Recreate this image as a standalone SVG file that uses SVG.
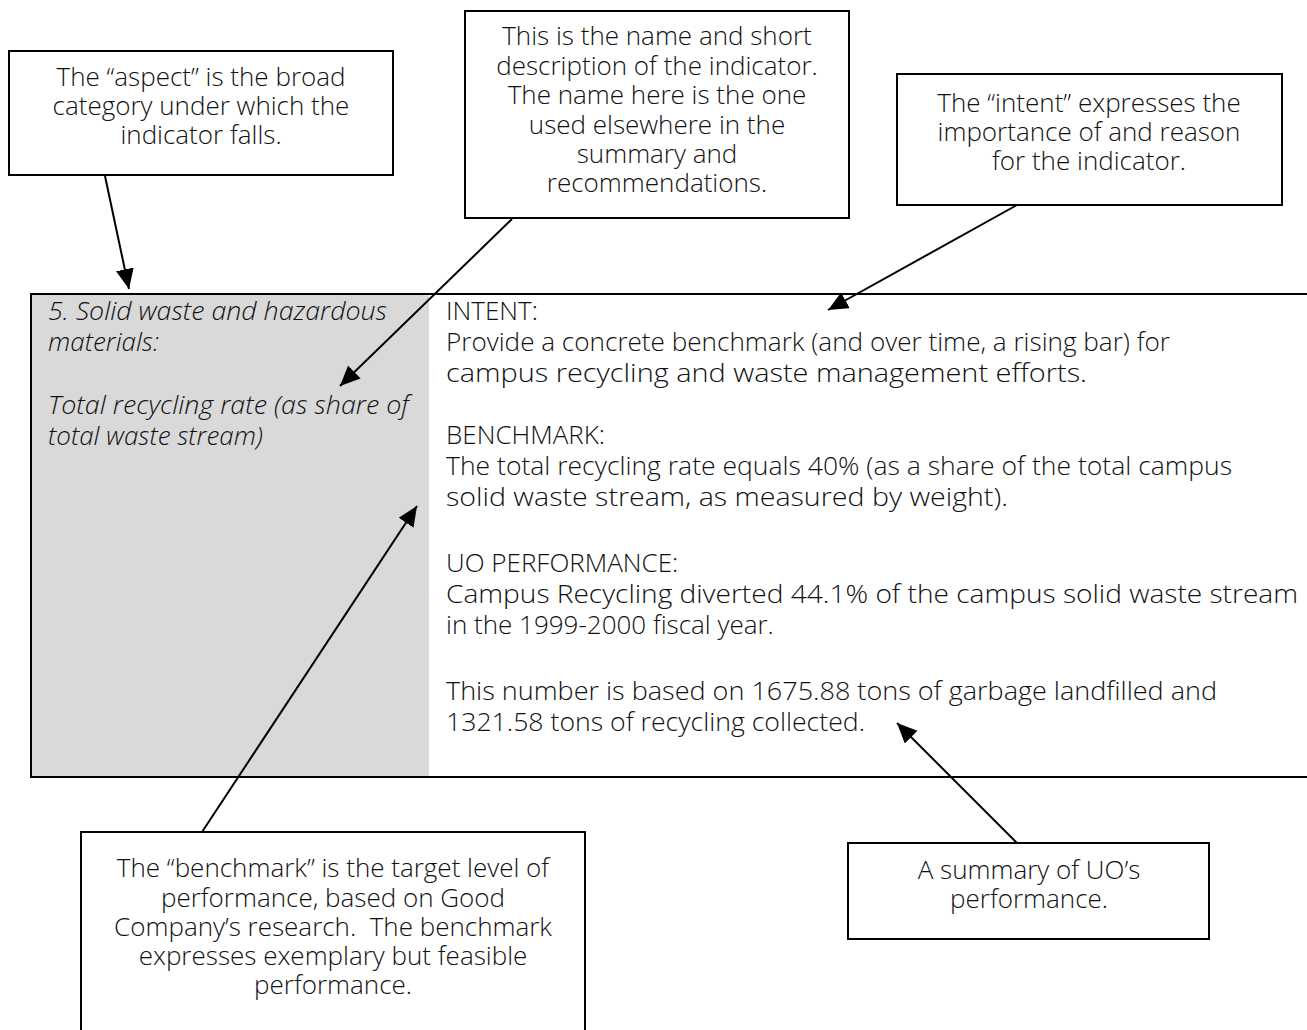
<svg xmlns="http://www.w3.org/2000/svg" width="1307" height="1030" viewBox="0 0 1307 1030">
<style>
.box{fill:#fff;stroke:#000;stroke-width:2}
.t{font-family:"Open Sans","Liberation Sans",sans-serif;font-size:26px;fill:#111;font-weight:300}
.c{text-anchor:middle}
.i{font-style:italic}
.ln{stroke:#000;stroke-width:2;fill:none;marker-end:url(#ah)}
</style>
<defs>
<marker id="ah" markerUnits="userSpaceOnUse" markerWidth="22" markerHeight="20" refX="20" refY="9" orient="auto">
<path d="M0,0 L20,9 L0,18 Z" fill="#000"/>
</marker>
</defs>
<rect width="1307" height="1030" fill="#fff"/>
<g id="table">
<rect x="31" y="294" width="398" height="483" fill="#d9d9d9"/>
<path d="M1307,294 H31 V777 H1307" fill="none" stroke="#000" stroke-width="2"/>
<text class="t i" x="48" y="320" textLength="339" lengthAdjust="spacingAndGlyphs">5. Solid waste and hazardous</text>
<text class="t i" x="48" y="351">materials:</text>
<text class="t i" x="48" y="414" textLength="361" lengthAdjust="spacingAndGlyphs">Total recycling rate (as share of</text>
<text class="t i" x="48" y="445">total waste stream)</text>
<text class="t" x="446" y="320">INTENT:</text>
<text class="t" x="446" y="351" textLength="724" lengthAdjust="spacingAndGlyphs">Provide a concrete benchmark (and over time, a rising bar) for</text>
<text class="t" x="446" y="382" textLength="641" lengthAdjust="spacingAndGlyphs">campus recycling and waste management efforts.</text>
<text class="t" x="446" y="444">BENCHMARK:</text>
<text class="t" x="446" y="475" textLength="786" lengthAdjust="spacingAndGlyphs">The total recycling rate equals 40% (as a share of the total campus</text>
<text class="t" x="446" y="506" textLength="562" lengthAdjust="spacingAndGlyphs">solid waste stream, as measured by weight).</text>
<text class="t" x="446" y="572">UO PERFORMANCE:</text>
<text class="t" x="446" y="603" textLength="852" lengthAdjust="spacingAndGlyphs">Campus Recycling diverted 44.1% of the campus solid waste stream</text>
<text class="t" x="446" y="634">in the 1999-2000 fiscal year.</text>
<text class="t" x="446" y="700" textLength="771" lengthAdjust="spacingAndGlyphs">This number is based on 1675.88 tons of garbage landfilled and</text>
<text class="t" x="446" y="731" textLength="419" lengthAdjust="spacingAndGlyphs">1321.58 tons of recycling collected.</text>
</g>
<g id="connectors">
<line class="ln" x1="105" y1="176" x2="129" y2="289"/>
<line class="ln" x1="512" y1="219" x2="340" y2="386"/>
<line class="ln" x1="1017" y1="205" x2="828" y2="310"/>
<line class="ln" x1="202" y1="832" x2="417" y2="506"/>
<line class="ln" x1="1017" y1="843" x2="897" y2="723"/>
</g>
<g id="aspect">
<rect class="box" x="9" y="51" width="384" height="124"/>
<text class="t c"><tspan x="201" y="86">The “aspect” is the broad</tspan><tspan x="201" y="115">category under which the</tspan><tspan x="201" y="144">indicator falls.</tspan></text>
</g>
<g id="name">
<rect class="box" x="465" y="11" width="384" height="207"/>
<text class="t c"><tspan x="657" y="45">This is the name and short</tspan><tspan x="657" y="75">description of the indicator.</tspan><tspan x="657" y="104">The name here is the one</tspan><tspan x="657" y="134">used elsewhere in the</tspan><tspan x="657" y="163">summary and</tspan><tspan x="657" y="192">recommendations.</tspan></text>
</g>
<g id="intent">
<rect class="box" x="897" y="74" width="385" height="131"/>
<text class="t c"><tspan x="1089" y="112">The “intent” expresses the</tspan><tspan x="1089" y="141">importance of and reason</tspan><tspan x="1089" y="170">for the indicator.</tspan></text>
</g>
<g id="benchmark">
<rect class="box" x="81" y="832" width="504" height="210"/>
<text class="t c"><tspan x="333" y="877">The “benchmark” is the target level of</tspan><tspan x="333" y="907">performance, based on Good</tspan><tspan x="333" y="936">Company’s research.&#160; The benchmark</tspan><tspan x="333" y="965">expresses exemplary but feasible</tspan><tspan x="333" y="994">performance.</tspan></text>
</g>
<g id="summary">
<rect class="box" x="848" y="843" width="361" height="96"/>
<text class="t c"><tspan x="1029" y="879">A summary of UO’s</tspan><tspan x="1029" y="908">performance.</tspan></text>
</g>
</svg>
